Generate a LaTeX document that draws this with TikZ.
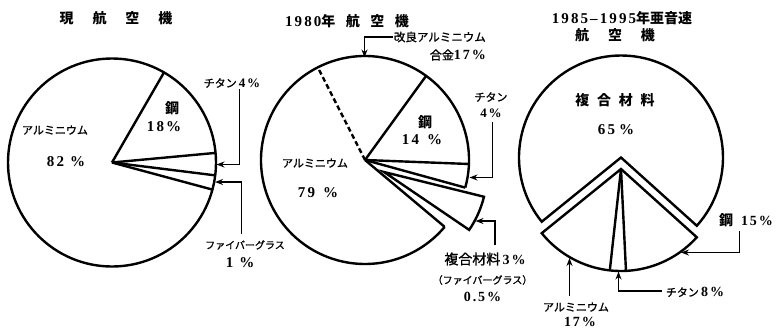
\documentclass[tikz,border=0pt]{standalone}
\usepackage{fontspec}
\setmainfont{Liberation Serif}
\newfontfamily\jp{Noto Sans CJK JP}[FakeBold=1.2]
\newfontfamily\jpb{Noto Sans CJK JP}
\newfontfamily\nf{Liberation Serif}[LetterSpace=14]
\usetikzlibrary{arrows.meta}
\newcommand{\J}[2][11]{{\jp\fontsize{#1}{#1}\selectfont #2}}
\newcommand{\JB}[2][14]{{\jpb\bfseries\fontsize{#1}{#1}\selectfont #2}}
\newcommand{\N}[2][15]{{\nf\bfseries\fontsize{#1}{#1}\selectfont #2}}
\begin{document}
\begin{tikzpicture}[x=1pt,y=-1pt,
  pie/.style={line width=2.4pt,line join=miter},
  dashline/.style={line width=2.4pt,dash pattern=on 5pt off 3pt},
  arr/.style={line width=1.6pt,-{Stealth[length=8pt,width=6pt]}},
  lbl/.style={inner sep=0pt,anchor=center}]
\useasboundingbox (0,0) rectangle (776,333);
% ---------- pie 1 ----------
\coordinate (c1) at (112,162.5);
\draw[pie] (c1) circle[radius=104];
\draw[pie] (c1) -- ++(-60:104);
\draw[pie] (c1) -- ++(-5.3:104);
\draw[pie] (c1) -- ++(7.1:104);
\draw[pie] (c1) -- ++(15.1:104);
\node[lbl] (t1) at (116,18) {\JB{現\hspace{1.35em}航\hspace{1.35em}空\hspace{1.35em}機}};
\node[lbl] (al1) at (55,130) {\J{アルミニウム}};
\node[lbl] (al1p) at (66,162) {\N{82\hspace{6pt}\%}};
\node[lbl] (st1) at (172,108) {\JB{鋼}};
\node[lbl] (st1p) at (164,127) {\N{18\hspace{2pt}\%}};
\node[lbl] (ti1) at (232,83) {\J{チタン}\N[13]{\,4\%}};
\node[lbl] (fg1) at (245,245) {\J[10]{ファイバーグラス}};
\node[lbl] (fg1p) at (240,263) {\N{1\hspace{6pt}\%}};
\coordinate (ti1a) at (239.5,89);
\coordinate (ti1b) at (239.5,164.5);
\coordinate (ti1c) at (216.5,164.5);
\draw[arr] (ti1a) -- (ti1b) -- (ti1c);
\coordinate (fg1a) at (241.5,234);
\coordinate (fg1b) at (241.5,182);
\coordinate (fg1c) at (215,182);
\draw[arr] (fg1a) -- (fg1b) -- (fg1c);
% ---------- pie 2 ----------
\coordinate (c2) at (365,160);
\draw[pie] (c2) ++(15.4:104) arc[start angle=15.4,end angle=-320,radius=104];
\draw[pie] (c2) -- ++(-54:104);
\draw[pie] (c2) -- ++(2.2:104);
\draw[pie] (c2) -- ++(15.4:104);
\draw[pie] (c2) -- ++(40:104);
\draw[dashline] (c2) -- ++(-117:104);
\coordinate (w2) at (384,172);
\draw[pie] (w2) -- ++(13.9:103) arc[start angle=13.9,end angle=34.2,radius=103] -- cycle;
\node[lbl] (t2) at (347,21) {\N{1980}\JB{年\hspace{0.75em}航\hspace{0.75em}空\hspace{0.75em}機}};
\node[lbl,anchor=east] (ka2) at (486,37) {\J[11.5]{改良アルミニウム}};
\node[lbl,anchor=east] (ka2p) at (486,55) {\J[12]{合金}\N[14]{17\%}};
\node[lbl] (ti2) at (491,97) {\J{チタン}};
\node[lbl] (ti2p) at (491,113) {\N[13]{4\%}};
\node[lbl] (st2) at (425,122) {\JB{鋼}};
\node[lbl] (st2p) at (422,140) {\N{14\hspace{8pt}\%}};
\node[lbl] (al2) at (315,163) {\J{アルミニウム}};
\node[lbl] (al2p) at (318,193) {\N{79\hspace{8pt}\%}};
\node[lbl] (co2) at (485,259) {\J[14]{複合材料}\N[14]{\,3\%}};
\node[lbl] (fg2) at (482.5,280) {\J[10]{（ファイバーグラス）}};
\node[lbl] (fg2p) at (482.5,297) {\N[14]{0.5\%}};
\coordinate (ka2a) at (393,37);
\coordinate (ka2b) at (364.5,37);
\coordinate (ka2c) at (364.5,57.5);
\draw[arr] (ka2a) -- (ka2b) -- (ka2c);
\coordinate (ti2a) at (492.5,122);
\coordinate (ti2b) at (492.5,177.5);
\coordinate (ti2c) at (469.5,177.5);
\draw[arr] (ti2a) -- (ti2b) -- (ti2c);
\coordinate (co2a) at (495,245);
\coordinate (co2b) at (495,221);
\coordinate (co2c) at (475.5,221);
\draw[arr] (co2a) -- (co2b) -- (co2c);
% ---------- pie 3 ----------
\coordinate (b3) at (621,157.5);
\coordinate (s3) at (621,169);
\draw[pie] (b3) -- ++(-318:102) arc[start angle=-318,end angle=-579,radius=102] -- cycle;
\draw[pie] (s3) -- ++(-219:102) arc[start angle=-219,end angle=-318,radius=102] -- cycle;
\draw[pie] (s3) -- ++(-263.7:102);
\draw[pie] (s3) -- ++(-272.8:102);
\node[lbl] (t3) at (622,18) {\N{1985–1995}\JB{年亜音速}};
\node[lbl] (t3b) at (615,35) {\JB{航\hspace{1.35em}空\hspace{1.35em}機}};
\node[lbl] (co3) at (615,100) {\JB{複\hspace{0.55em}合\hspace{0.55em}材\hspace{0.55em}料}};
\node[lbl] (co3p) at (616,130) {\N{65\hspace{4pt}\%}};
\node[lbl] (st3) at (746,220) {\JB{鋼}\N[14]{\hspace{8pt}15\%}};
\node[lbl] (al3) at (576,307) {\J{アルミニウム}};
\node[lbl] (al3p) at (580,322) {\N[14]{17\%}};
\node[lbl] (ti3) at (695,292) {\J{チタン}\N[14]{\,8\%}};
\coordinate (st3a) at (739.5,231);
\coordinate (st3b) at (739.5,252.5);
\coordinate (st3c) at (681,252.5);
\draw[arr] (st3a) -- (st3b) -- (st3c);
\coordinate (al3a) at (569.5,296);
\coordinate (al3b) at (569.5,258);
\draw[arr] (al3a) -- (al3b);
\coordinate (ti3a) at (662,291);
\coordinate (ti3b) at (618.5,291);
\coordinate (ti3c) at (618.5,271.5);
\draw[arr] (ti3a) -- (ti3b) -- (ti3c);
\end{tikzpicture}
\end{document}
